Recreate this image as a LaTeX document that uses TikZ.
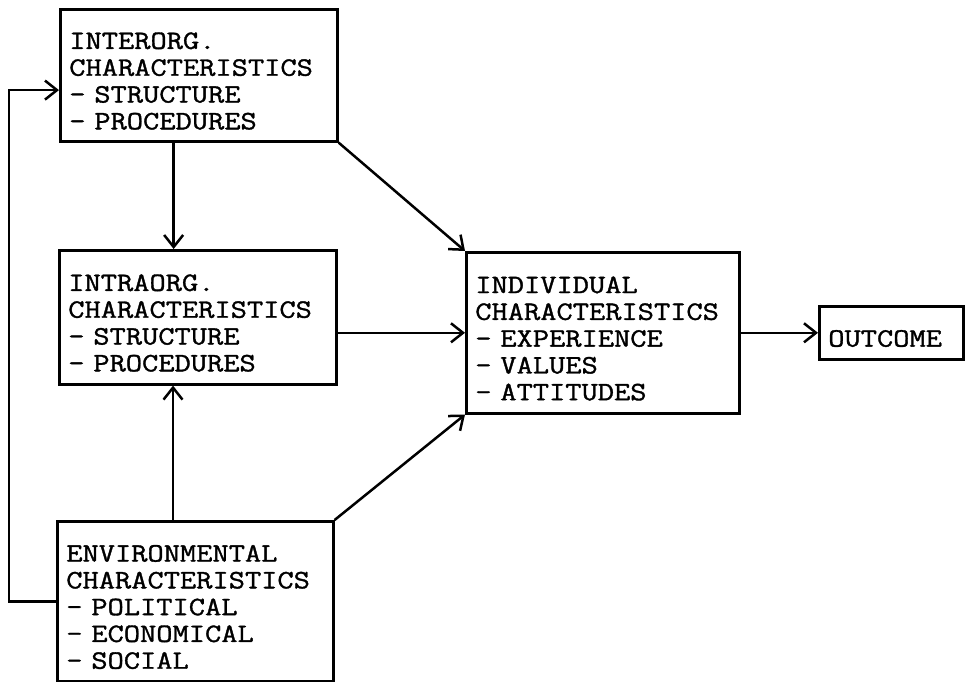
\documentclass[tikz,border=0pt]{standalone}
\usepackage{fontspec}
\setmonofont{Latin Modern Mono}[FakeStretch=1.19,FakeBold=1.3]
\usepackage{tikz}
\usetikzlibrary{positioning,calc,arrows.meta}
\newcommand\boxfontsize{\fontsize{26.5}{26.8}\selectfont}

\begin{document}
\begin{tikzpicture}[
  x=1pt, y=1pt,
  font={\ttfamily\boxfontsize},
  >={Straight Barb[length=12pt,width=19pt,line width=2.5pt]},
  factor/.style={draw,line width=2.6pt,anchor=north west,align=left,inner xsep=9pt,inner ysep=0pt,
                 execute at begin node={\rule{0pt}{28pt}}},
  link/.style={->,line width=2.5pt},
]

  % Fix the page to the reference size
  \useasboundingbox[fill=white] (0,0) rectangle (968,681);

  % Factors
  \node[factor,text width=259pt,minimum height=132pt] (inter) at (59,673)
        {INTERORG.\\CHARACTERISTICS\\- STRUCTURE\\- PROCEDURES};

  \node[factor,text width=259pt,minimum height=134pt] (intra) at (58,432)
        {INTRAORG.\\CHARACTERISTICS\\- STRUCTURE\\- PROCEDURES};

  \node[factor,text width=258pt,minimum height=160pt] (env) at (56,161)
        {ENVIRONMENTAL\\CHARACTERISTICS\\- POLITICAL\\- ECONOMICAL\\- SOCIAL};

  \node[factor,text width=255pt,minimum height=161pt] (indiv) at (465,430)
        {INDIVIDUAL\\CHARACTERISTICS\\- EXPERIENCE\\- VALUES\\- ATTITUDES};

  \node[factor,text width=126pt,minimum height=53pt] (outcome) at (818,376)
        {OUTCOME};

  % Links
  \coordinate (interdown) at ($ (inter.south west)!0.41!(inter.south east)$);
  \coordinate (envup) at ($ (env.north west)!0.42!(env.north east)$);
  \coordinate (loop) at (9,0);

  \draw[link] (interdown) -- (interdown |- intra.north);
  \draw[link] (envup) -- (envup |- intra.south);
  \draw[link] (inter.south east) -- (indiv.north west);
  \draw[link] (env.north east) -- (indiv.south west);
  \draw[link] (intra.east |- indiv.west) -- (indiv.west);
  \draw[link] (indiv.east) -- (outcome.west);

  \draw[link] (env.west) -- (loop |- env.west) |- ($ (inter.south west)!0.39!(inter.north west)$);

\end{tikzpicture}
\end{document}
